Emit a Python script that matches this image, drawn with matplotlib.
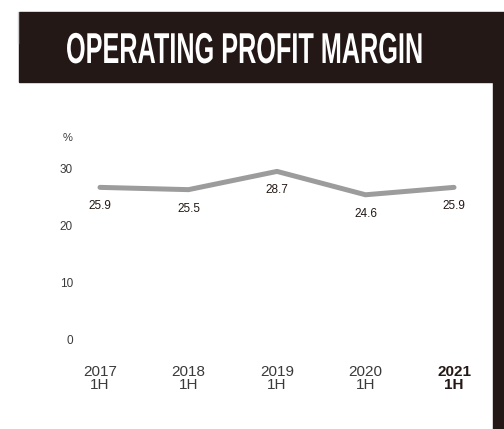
import matplotlib
matplotlib.use("Agg")
import matplotlib.pyplot as plt
import matplotlib.transforms as mtransforms
from matplotlib.patches import Rectangle
from matplotlib.lines import Line2D
from matplotlib.patheffects import AbstractPathEffect

plt.rcParams['font.family'] = ['Liberation Sans', 'DejaVu Sans']

# data
periods = ["2017\n1H", "2018\n1H", "2019\n1H", "2020\n1H", "2021\n1H"]
margin = [25.9, 25.5, 28.7, 24.6, 25.9]
yticks = [0, 10, 20, 30]
title = "OPERATING PROFIT MARGIN"

DARK = "#231815"
GREY_LINE = "#9c9c9c"
TXT = "#3a3a3a"


class Squeeze(AbstractPathEffect):
    # condensed headline look: narrower + taller glyphs
    def __init__(self, sx, sy):
        super().__init__()
        self.sx = sx
        self.sy = sy

    def draw_path(self, renderer, gc, tpath, affine, rgbFace=None):
        renderer.draw_path(gc, tpath, mtransforms.Affine2D().scale(self.sx, self.sy) + affine, rgbFace)


W, H = 504, 429
fig = plt.figure(figsize=(W / 100, H / 100), dpi=100)
fig.patch.set_facecolor("white")

# header band + right bar
fig.patches.append(Rectangle((19 / W, 1 - 82 / H), (W - 19) / W, 70 / H,
                             transform=fig.transFigure, color=DARK, zorder=0))
fig.patches.append(Rectangle((492.5 / W, 0), (W - 492.5) / W, 1 - 82 / H,
                             transform=fig.transFigure, color=DARK, zorder=0))
fig.lines.append(Line2D([18 / W, 18 / W], [1 - 12 / H, 1 - 43 / H],
                        transform=fig.transFigure, color="#cfcfcf", lw=1))

fig.text(66 / W, 1 - 63 / H, title, color="white", fontsize=21.9,
         fontweight="bold", ha="left", va="baseline",
         path_effects=[Squeeze(0.83, 1.42)])

# axes: x -0.5..4.5 -> 55.75..498.25 px, y -5..35 -> 363.5..135.5 px
ax = fig.add_axes([55.75 / W, (H - 363.5) / H, 442.5 / W, 228 / H])
ax.set_facecolor("none")
x = list(range(len(periods)))
ax.plot(x, margin, color=GREY_LINE, lw=3.6, solid_capstyle="round", solid_joinstyle="round")

for xi, v in zip(x, margin):
    ax.annotate(f"{v:.1f}", (xi, v), xytext=(0, -13.7), textcoords="offset points",
                ha="center", va="center", fontsize=8.5, color=DARK)

ax.set_xlim(-0.5, 4.5)
ax.set_ylim(-5, 35)
ax.set_xticks(x)
ax.set_xticklabels(periods, fontsize=11, color=TXT, linespacing=0.95)
ax.set_yticks(yticks)
ax.set_yticklabels([str(t) for t in yticks], fontsize=8.5, color=TXT, ha="right")
ax.tick_params(axis="x", length=0, pad=1)
ax.tick_params(axis="y", length=0, pad=-12.4)
for lab in ax.get_yticklabels():
    lab.set_transform(lab.get_transform() + mtransforms.ScaledTranslation(0, -3 / 72, fig.dpi_scale_trans))
last = ax.get_xticklabels()[-1]
last.set_fontweight("bold")
last.set_color(DARK)
for s in ax.spines.values():
    s.set_visible(False)

fig.text(68 / W, 1 - 138 / H, "%", fontsize=8, color=TXT, ha="center", va="center")

fig.savefig("out.png", dpi=100)
